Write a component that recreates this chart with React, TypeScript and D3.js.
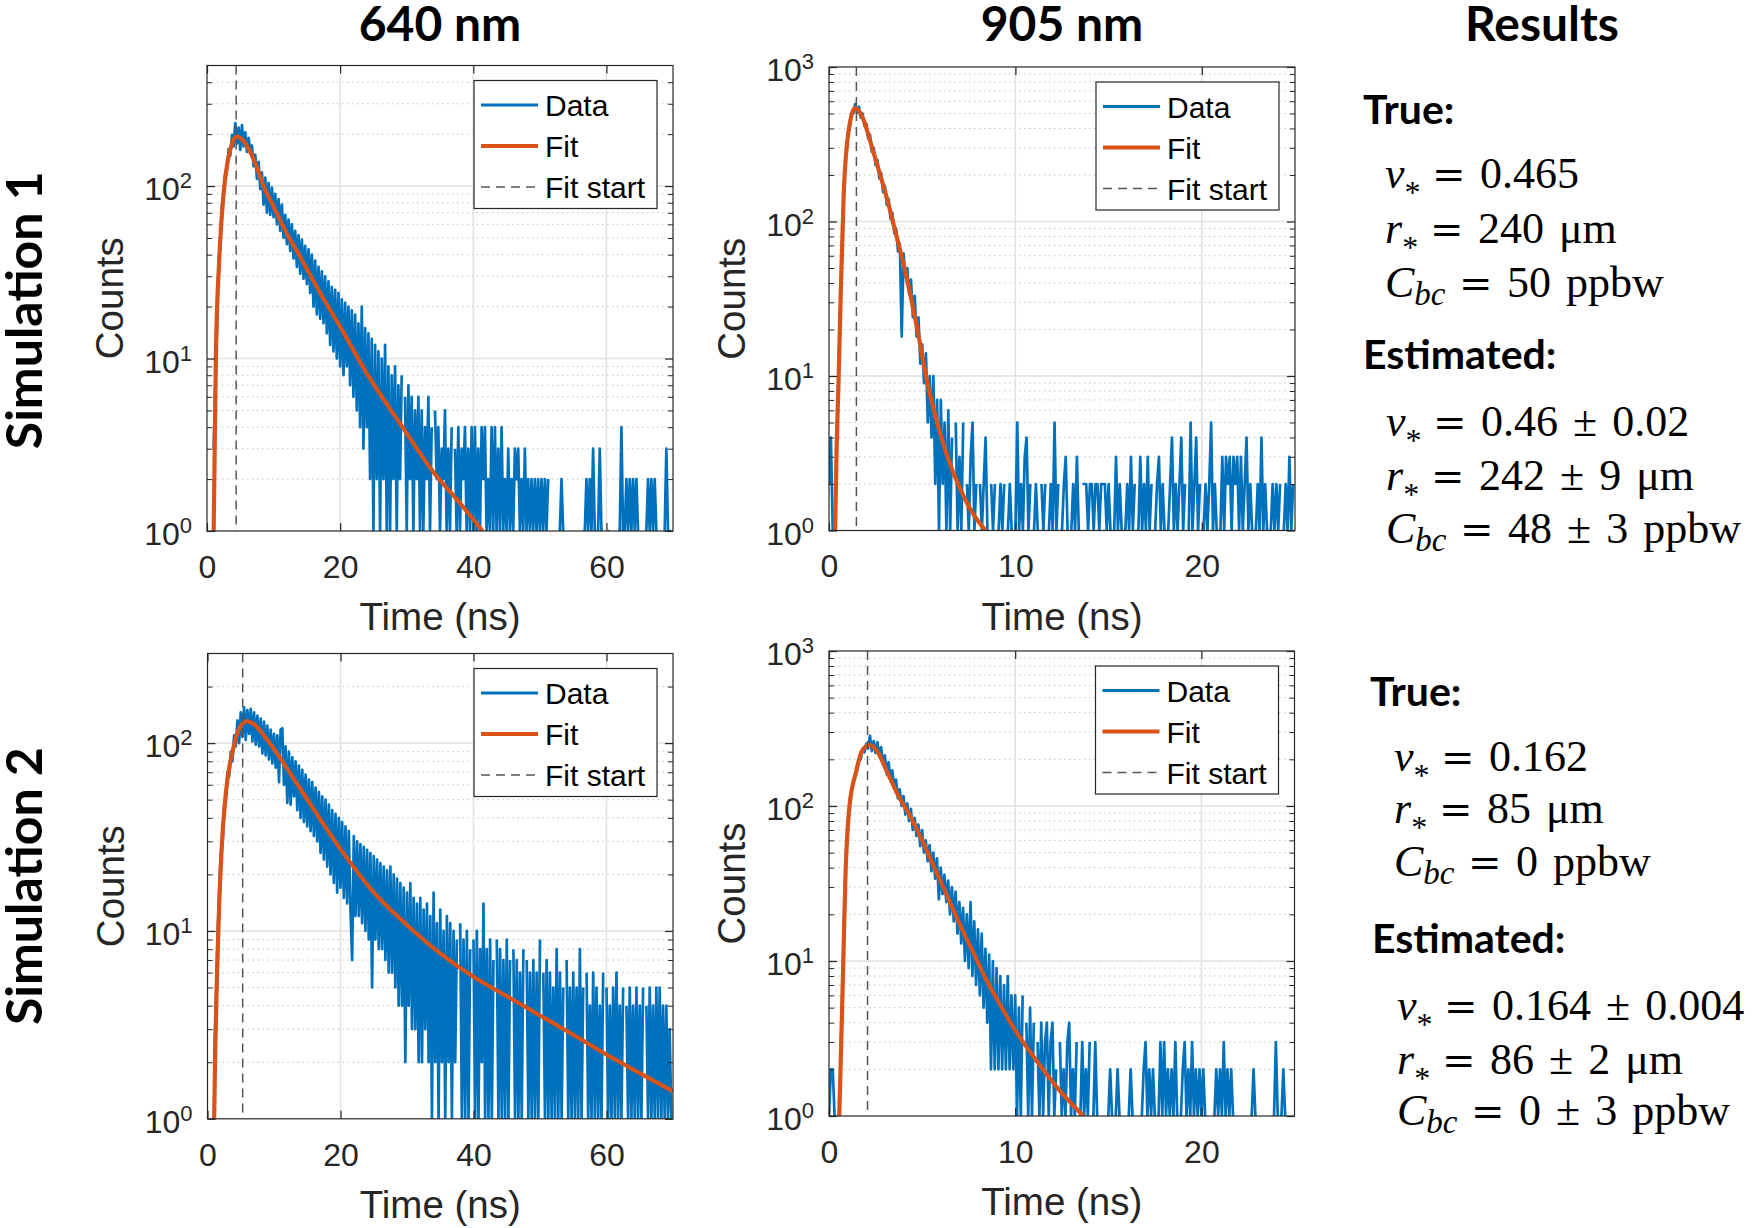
import React, { useEffect, useRef } from "react";
import * as d3 from "d3";

const WIDTH = 1753;
const HEIGHT = 1228;

const DATA_BLUE = "#0072BD";
const FIT_ORANGE = "#D95319";
const AXIS_COLOR = "#262626";
const AXIS_FONT = "'Liberation Sans', Arial, Helvetica, sans-serif";
const HEAD_FONT = "Lato, 'Open Sans', sans-serif";
const MATH_FONT = "'Liberation Serif', 'Times New Roman', serif";

// histogram bin widths (ns)
const binWidth640 = 0.25;
const binWidth905 = 0.1;

// photon counts per bin, simulation 1
const counts640Sim1 = [
  0, 0, 0, 0, 3, 7, 15, 38, 44, 78,
  86, 120, 126, 164, 150, 198, 170, 232, 176, 218,
  162, 226, 170, 205, 158, 190, 162, 172, 130, 152,
  110, 138, 96, 120, 78, 112, 70, 104, 68, 98,
  66, 90, 60, 84, 55, 78, 50, 68, 46, 64,
  42, 60, 38, 55, 34, 52, 31, 49, 29, 45,
  27, 43, 24, 40, 20, 37, 18, 34, 17, 32,
  16, 30, 14, 28, 12, 26, 11, 25, 10, 24,
  9, 22, 8, 21, 9, 20, 7, 19, 6, 18,
  5, 16, 4, 20, 3, 15, 4, 14, 2, 13,
  1, 12, 2, 11, 1, 10, 2, 12, 1, 9,
  1, 8, 2, 9, 1, 7, 2, 8, 0, 6,
  1, 7, 2, 6, 1, 5, 2, 6, 1, 5,
  1, 4, 2, 6, 1, 4, 0, 5, 2, 4,
  1, 3, 2, 5, 1, 3, 1, 4, 0, 3,
  1, 4, 1, 3, 2, 4, 1, 3, 1, 4,
  1, 4, 1, 3, 1, 4, 2, 4, 1, 2,
  1, 4, 1, 4, 1, 3, 1, 4, 1, 2,
  1, 3, 1, 2, 1, 3, 2, 3, 1, 2,
  1, 3, 1, 2, 1, 2, 1, 2, 1, 2,
  1, 2, 1, 2, 1, 2, 0, 2, 0, 1,
  0, 0, 1, 2, 1, 0, 0, 1, 0, 0,
  0, 0, 1, 0, 0, 0, 1, 1, 2, 1,
  2, 1, 3, 1, 0, 1, 3, 1, 0, 1,
  0, 1, 1, 0, 0, 1, 0, 1, 1, 4,
  1, 1, 2, 1, 2, 1, 2, 1, 2, 1,
  0, 0, 1, 0, 1, 2, 1, 2, 1, 2,
  1, 0, 0, 1, 0, 1, 3, 1, 1, 1,
];

const counts905Sim1 = [
  2, 4, 1, 0, 3, 9, 26, 70, 160, 262,
  360, 400, 505, 500, 575, 505, 555, 470, 500, 415,
  430, 345, 365, 282, 300, 232, 250, 190, 206, 155,
  170, 128, 140, 104, 114, 84, 90, 64, 72, 18,
  62, 44, 50, 34, 42, 24, 33, 18, 24, 12,
  16, 9, 14, 5, 10, 4, 10, 2, 7, 1,
  7, 2, 5, 1, 6, 1, 4, 0, 5, 1,
  3, 1, 5, 0, 2, 1, 3, 5, 1, 2,
  0, 2, 1, 2, 4, 1, 0, 2, 1, 2,
  0, 1, 2, 1, 2, 0, 1, 2, 1, 0,
  1, 5, 1, 2, 1, 3, 4, 1, 2, 0,
  1, 2, 1, 0, 2, 1, 2, 0, 1, 2,
  1, 5, 1, 2, 0, 1, 2, 3, 1, 0,
  1, 2, 1, 3, 1, 0, 2, 2, 2, 1,
  2, 2, 1, 2, 2, 1, 2, 2, 2, 1,
  2, 1, 0, 1, 3, 1, 2, 1, 0, 1,
  2, 1, 3, 1, 2, 0, 1, 3, 1, 2,
  1, 3, 1, 2, 0, 1, 2, 3, 1, 2,
  1, 0, 1, 2, 4, 1, 2, 1, 2, 4,
  1, 2, 0, 1, 5, 1, 2, 4, 1, 2,
  0, 1, 2, 1, 2, 5, 1, 2, 1, 0,
  1, 3, 1, 3, 2, 3, 1, 3, 2, 3,
  1, 3, 1, 2, 4, 1, 2, 1, 0, 1,
  2, 1, 4, 1, 2, 1, 0, 1, 2, 1,
  2, 1, 2, 0, 1, 2, 1, 3, 1, 2,
];

// photon counts per bin, simulation 2
const counts640Sim2 = [
  0, 0, 0, 0, 2, 4, 9, 16, 26, 28,
  46, 50, 70, 66, 90, 80, 110, 96, 132, 100,
  146, 108, 155, 104, 150, 112, 152, 102, 146, 98,
  140, 96, 135, 88, 130, 86, 124, 82, 118, 78,
  112, 74, 110, 62, 118, 120, 60, 96, 48, 90,
  47, 84, 52, 80, 44, 76, 40, 72, 38, 68,
  36, 64, 34, 62, 32, 58, 30, 55, 26, 52,
  24, 50, 22, 47, 20, 44, 18, 42, 16, 40,
  17, 38, 15, 36, 14, 34, 13, 7, 32, 12,
  30, 12, 29, 11, 28, 10, 27, 9, 26, 5,
  25, 9, 24, 8, 23, 8, 22, 7, 21, 6,
  22, 6, 20, 5, 19, 4, 18, 4, 17, 2,
  16, 4, 18, 3, 15, 3, 14, 2, 15, 2,
  13, 3, 14, 2, 12, 1, 16, 2, 11, 1,
  13, 2, 10, 1, 12, 2, 11, 1, 10, 2,
  9, 0, 11, 1, 9, 1, 10, 1, 8, 0,
  9, 1, 10, 1, 8, 2, 14, 1, 8, 1,
  9, 1, 7, 0, 9, 1, 8, 1, 7, 1,
  9, 1, 7, 0, 8, 1, 7, 1, 6, 1,
  8, 0, 7, 1, 6, 1, 7, 1, 6, 1,
  9, 0, 6, 1, 7, 1, 6, 1, 5, 1,
  8, 1, 6, 1, 5, 0, 7, 1, 5, 1,
  6, 1, 5, 1, 8, 1, 5, 0, 6, 1,
  4, 1, 6, 1, 5, 1, 4, 1, 6, 0,
  5, 1, 4, 1, 5, 1, 6, 1, 4, 1,
  5, 0, 4, 1, 5, 1, 4, 1, 5, 1,
  4, 1, 5, 0, 4, 1, 5, 1, 4, 1,
  5, 1, 5, 1, 4, 1, 4, 1, 3, 1,
];

const counts905Sim2 = [
  1, 2, 2, 1, 0, 0, 2, 5, 18, 40,
  68, 98, 120, 140, 158, 168, 196, 200, 234, 222,
  252, 236, 284, 226, 262, 220, 258, 208, 240, 186,
  212, 160, 192, 150, 170, 132, 148, 112, 128, 100,
  116, 88, 104, 80, 96, 70, 84, 64, 76, 55,
  70, 50, 60, 44, 56, 38, 50, 34, 46, 25,
  40, 27, 36, 24, 33, 20, 30, 18, 28, 15,
  24, 13, 22, 10, 20, 9, 24, 8, 18, 7,
  16, 6, 15, 5, 12, 4, 11, 2, 10, 2,
  9, 2, 8, 2, 7, 2, 8, 2, 6, 2,
  6, 1, 5, 1, 6, 0, 4, 1, 5, 1,
  4, 0, 3, 1, 4, 1, 3, 4, 1, 3,
  4, 1, 2, 0, 3, 1, 2, 1, 3, 4,
  1, 2, 1, 3, 0, 1, 3, 1, 2, 1,
  3, 0, 1, 3, 1, 0, 0, 1, 0, 0,
  1, 2, 1, 0, 1, 2, 1, 0, 0, 1,
  0, 1, 2, 1, 0, 0, 1, 0, 1, 2,
  3, 1, 2, 1, 2, 1, 0, 1, 3, 1,
  3, 1, 2, 1, 2, 1, 3, 1, 0, 1,
  2, 3, 1, 2, 1, 3, 1, 2, 1, 2,
  1, 2, 1, 0, 0, 1, 0, 1, 2, 1,
  2, 1, 3, 1, 2, 1, 2, 1, 0, 0,
  1, 0, 1, 0, 0, 1, 0, 1, 2, 1,
  0, 0, 1, 0, 0, 1, 0, 1, 0, 1,
  3, 1, 0, 1, 2, 1, 0, 1, 0, 1,
];

// fitted model sampled at a few times (ns -> counts)
const fitTime640Sim1 = [1.0, 1.33, 1.83, 2.48, 3.13, 3.8, 4.49, 5.5, 6.49, 7.5, 8.5, 10, 12, 14, 17, 20, 24, 29, 34, 38, 41.4];
const fitCounts640Sim1 = [1, 10, 37, 90, 141, 178, 194, 182, 158, 128, 100, 76, 53, 38.8, 24, 15.3, 8.2, 4.2, 2.2, 1.45, 1.0];

const fitTime905Sim1 = [0.33, 0.4, 0.52, 0.63, 0.79, 0.97, 1.15, 1.38, 1.6, 1.9, 2.19, 2.6, 3.08, 3.5, 3.98, 4.4, 4.88, 5.2, 5.8, 6.4, 7.0, 7.7, 8.4];
const fitCounts905Sim1 = [1, 3, 10, 34, 152, 321, 454, 541, 520, 440, 337, 230, 145, 92, 54, 32, 16.3, 10, 5.0, 2.9, 1.9, 1.3, 1.0];

const fitTime640Sim2 = [1.0, 1.13, 1.63, 2.13, 2.78, 3.88, 4.8, 5.89, 7.0, 8.9, 13.9, 19.9, 24.9, 29.95, 35, 40, 45, 50, 55, 60, 65, 70];
const fitCounts640Sim2 = [1, 1.94, 10, 27.6, 55, 94, 120, 131, 126, 105, 57.5, 27.6, 16.2, 10.8, 7.6, 5.7, 4.5, 3.55, 2.8, 2.2, 1.75, 1.4];

const fitTime905Sim2 = [0.55, 0.63, 0.77, 0.88, 1.1, 1.46, 1.76, 2.17, 2.6, 3.11, 3.7, 4.36, 5.0, 5.62, 6.3, 7.05, 7.8, 8.49, 9.2, 9.92, 11.0, 12.3, 13.66];
const fitCounts905Sim2 = [1, 2.25, 10, 34, 100, 167, 225, 248, 225, 167, 118, 86, 60, 41, 27, 17, 11, 7.4, 5.2, 3.7, 2.4, 1.5, 1.0];

// start of the fitting window (ns)
const fitStart640Sim1 = 4.38;
const fitStart905Sim1 = 1.47;
const fitStart640Sim2 = 5.29;
const fitStart905Sim2 = 2.07;

const xTicks640 = [0, 20, 40, 60];
const xTicks905 = [0, 10, 20];
const xMax640 = 70;
const xMax905 = 25;

const legendLabels = ["Data", "Fit", "Fit start"];
const columnTitles = ["640 nm", "905 nm", "Results"];
const rowTitles = ["Simulation 1", "Simulation 2"];

const trueSim1 = ["0.465", "240 μm", "50 ppbw"];
const estSim1 = ["0.46 ± 0.02", "242 ± 9 μm", "48 ± 3 ppbw"];
const trueSim2 = ["0.162", "85 μm", "0 ppbw"];
const estSim2 = ["0.164 ± 0.004", "86 ± 2 μm", "0 ± 3 ppbw"];

const panels = [
  { id: "a", counts: counts640Sim1, bin: binWidth640, fitTime: fitTime640Sim1, fitCounts: fitCounts640Sim1,
    fitStart: fitStart640Sim1, xMax: xMax640, xTicks: xTicks640, yMax: 500,
    left: 207, right: 673, top: 65.5, bottom: 531 },
  { id: "b", counts: counts905Sim1, bin: binWidth905, fitTime: fitTime905Sim1, fitCounts: fitCounts905Sim1,
    fitStart: fitStart905Sim1, xMax: xMax905, xTicks: xTicks905, yMax: 1000,
    left: 829, right: 1295, top: 67, bottom: 530.5 },
  { id: "c", counts: counts640Sim2, bin: binWidth640, fitTime: fitTime640Sim2, fitCounts: fitCounts640Sim2,
    fitStart: fitStart640Sim2, xMax: xMax640, xTicks: xTicks640, yMax: 300,
    left: 207.5, right: 673, top: 653.5, bottom: 1118.8 },
  { id: "d", counts: counts905Sim2, bin: binWidth905, fitTime: fitTime905Sim2, fitCounts: fitCounts905Sim2,
    fitStart: fitStart905Sim2, xMax: xMax905, xTicks: xTicks905, yMax: 1000,
    left: 829, right: 1294.5, top: 651, bottom: 1116 },
];

type Panel = (typeof panels)[number];

function drawPanel(svg: d3.Selection<SVGSVGElement, unknown, null, undefined>, p: Panel) {
  const x = d3.scaleLinear().domain([0, p.xMax]).range([p.left, p.right]);
  const y = d3.scaleLog().domain([1, p.yMax]).range([p.bottom, p.top]);
  const g = svg.append("g");

  const clipId = "clip-" + p.id;
  g.append("clipPath").attr("id", clipId).append("rect")
    .attr("x", p.left).attr("y", p.top)
    .attr("width", p.right - p.left).attr("height", p.bottom - p.top);

  // decades and the 2..9 minor values in between
  const decades = d3.range(0, Math.ceil(Math.log10(p.yMax)) + 1)
    .map((k) => Math.pow(10, k)).filter((v) => v <= p.yMax);
  const minors: number[] = [];
  decades.forEach((d) => {
    for (let k = 2; k <= 9; k++) if (k * d < p.yMax) minors.push(k * d);
  });

  // grid
  g.append("g").selectAll("line").data(minors).join("line")
    .attr("x1", p.left).attr("x2", p.right)
    .attr("y1", (d) => y(d)).attr("y2", (d) => y(d))
    .attr("stroke", "#c4c4c4").attr("stroke-width", 1).attr("stroke-dasharray", "1.5 3.5");
  g.append("g").selectAll("line").data(decades.filter((d) => d > 1 && d < p.yMax)).join("line")
    .attr("x1", p.left).attr("x2", p.right)
    .attr("y1", (d) => y(d)).attr("y2", (d) => y(d))
    .attr("stroke", "#e1e1e1").attr("stroke-width", 1.5);
  g.append("g").selectAll("line").data(p.xTicks.filter((t) => t > 0)).join("line")
    .attr("x1", (d) => x(d)).attr("x2", (d) => x(d))
    .attr("y1", p.top).attr("y2", p.bottom)
    .attr("stroke", "#e1e1e1").attr("stroke-width", 1.5);

  // measured histogram (empty bins leave gaps on the log axis)
  const dataLine = d3.line<number>()
    .defined((d) => d > 0)
    .x((d, i) => x(i * p.bin))
    .y((d) => y(d));
  g.append("path")
    .attr("clip-path", `url(#${clipId})`)
    .attr("d", dataLine(p.counts))
    .attr("fill", "none")
    .attr("stroke", DATA_BLUE)
    .attr("stroke-width", 2.7)
    .attr("stroke-linejoin", "round");

  // model fit
  const fitLine = d3.line<number>()
    .curve(d3.curveMonotoneX)
    .x((d, i) => x(p.fitTime[i]))
    .y((d) => y(d));
  g.append("path")
    .attr("clip-path", `url(#${clipId})`)
    .attr("d", fitLine(p.fitCounts))
    .attr("fill", "none")
    .attr("stroke", FIT_ORANGE)
    .attr("stroke-width", 4.2);

  // fit window start
  g.append("line")
    .attr("x1", x(p.fitStart)).attr("x2", x(p.fitStart))
    .attr("y1", p.top).attr("y2", p.bottom)
    .attr("stroke", "#555").attr("stroke-width", 1.5)
    .attr("stroke-dasharray", "9 6");

  // ticks on all four sides, pointing inwards
  const xb = g.append("g").attr("transform", `translate(0,${p.bottom})`)
    .call(d3.axisBottom(x).tickValues(p.xTicks).tickSize(-8).tickSizeOuter(0).tickPadding(24).tickFormat(d3.format("d")));
  xb.attr("font-size", 32).attr("font-family", AXIS_FONT);
  xb.select(".domain").remove();
  xb.selectAll("line").attr("stroke", AXIS_COLOR).attr("stroke-width", 1.2);
  xb.selectAll("text").attr("fill", AXIS_COLOR);

  const xt = g.append("g").attr("transform", `translate(0,${p.top})`)
    .call(d3.axisTop(x).tickValues(p.xTicks).tickSize(-8).tickSizeOuter(0));
  xt.select(".domain").remove();
  xt.selectAll("text").remove();
  xt.selectAll("line").attr("stroke", AXIS_COLOR).attr("stroke-width", 1.2);

  [
    { axis: d3.axisLeft(y), at: p.left },
    { axis: d3.axisRight(y), at: p.right },
  ].forEach(({ axis, at }) => {
    const major = g.append("g").attr("transform", `translate(${at},0)`)
      .call(axis.tickValues(decades).tickSize(-8).tickSizeOuter(0));
    major.select(".domain").remove();
    major.selectAll("text").remove();
    major.selectAll("line").attr("stroke", AXIS_COLOR).attr("stroke-width", 1.2);
    const minor = g.append("g").attr("transform", `translate(${at},0)`)
      .call(axis.tickValues(minors).tickSize(-5).tickSizeOuter(0));
    minor.select(".domain").remove();
    minor.selectAll("text").remove();
    minor.selectAll("line").attr("stroke", AXIS_COLOR).attr("stroke-width", 1);
  });

  // 10^k labels
  g.append("g").selectAll("text").data(decades).join("text")
    .attr("x", p.left - 15)
    .attr("y", (d) => y(d) + 14)
    .attr("text-anchor", "end")
    .attr("font-family", AXIS_FONT)
    .attr("font-size", 32)
    .attr("fill", AXIS_COLOR)
    .each(function (d) {
      const t = d3.select(this);
      t.append("tspan").text("10");
      t.append("tspan").attr("dy", -12).attr("font-size", 22).text(String(Math.round(Math.log10(d))));
    });

  g.append("rect")
    .attr("x", p.left).attr("y", p.top)
    .attr("width", p.right - p.left).attr("height", p.bottom - p.top)
    .attr("fill", "none").attr("stroke", AXIS_COLOR).attr("stroke-width", 1.2);

  // axis titles
  g.append("text")
    .attr("x", (p.left + p.right) / 2).attr("y", p.bottom + 99)
    .attr("text-anchor", "middle").attr("font-family", AXIS_FONT).attr("font-size", 38.5)
    .attr("fill", AXIS_COLOR).text("Time (ns)");
  g.append("text")
    .attr("transform", `translate(${p.left - 84},${(p.top + p.bottom) / 2}) rotate(-90)`)
    .attr("text-anchor", "middle").attr("font-family", AXIS_FONT).attr("font-size", 38.5)
    .attr("fill", AXIS_COLOR).text("Counts");

  // legend
  const lg = g.append("g").attr("transform", `translate(${p.right - 199},${p.top + 15})`);
  lg.append("rect").attr("width", 183).attr("height", 128)
    .attr("fill", "#fff").attr("stroke", AXIS_COLOR).attr("stroke-width", 1.2);
  const entries = [
    { color: DATA_BLUE, width: 3, dash: null as string | null },
    { color: FIT_ORANGE, width: 4, dash: null as string | null },
    { color: "#555", width: 1.5, dash: "9 6" },
  ];
  entries.forEach((e, i) => {
    const cy = 24.5 + 41 * i;
    lg.append("line").attr("x1", 7).attr("x2", 64).attr("y1", cy).attr("y2", cy)
      .attr("stroke", e.color).attr("stroke-width", e.width)
      .attr("stroke-dasharray", e.dash);
    lg.append("text").attr("x", 71).attr("y", cy + 11)
      .attr("font-family", AXIS_FONT).attr("font-size", 30).attr("fill", "#000")
      .text(legendLabels[i]);
  });
}

const symbols = [
  { base: "v", sub: "*", subSize: 32, subDy: 15, eq: 47 },
  { base: "r", sub: "*", subSize: 32, subDy: 15, eq: 45 },
  { base: "C", sub: "bc", subSize: 33, subDy: 8, eq: 74 },
];

const resultBlocks = [
  { heading: "True:", hx: 1363, hy: 124, left: 1385, lines: trueSim1, baselines: [188, 243, 297] },
  { heading: "Estimated:", hx: 1363, hy: 369, left: 1386, lines: estSim1, baselines: [436, 490, 543] },
  { heading: "True:", hx: 1370, hy: 706, left: 1394, lines: trueSim2, baselines: [771, 823, 876] },
  { heading: "Estimated:", hx: 1372, hy: 953, left: 1397, lines: estSim2, baselines: [1020, 1074, 1125] },
];

function drawResults(svg: d3.Selection<SVGSVGElement, unknown, null, undefined>) {
  const g = svg.append("g");
  resultBlocks.forEach((b) => {
    g.append("text").attr("x", b.hx).attr("y", b.hy)
      .attr("font-family", HEAD_FONT).attr("font-weight", 700).attr("font-size", 41)
      .attr("fill", "#000").text(b.heading);
    b.lines.forEach((value, i) => {
      const s = symbols[i];
      const yb = b.baselines[i];
      const sym = g.append("text").attr("x", b.left).attr("y", yb)
        .attr("font-family", MATH_FONT).attr("font-size", 44).attr("fill", "#000");
      sym.append("tspan").attr("font-style", "italic").text(s.base);
      sym.append("tspan").attr("font-style", s.sub === "*" ? "normal" : "italic")
        .attr("font-size", s.subSize).attr("dy", s.subDy).text(s.sub);
      g.append("text").attr("x", b.left + s.eq).attr("y", yb)
        .attr("font-family", "'DejaVu Serif', serif").attr("font-size", 40).attr("fill", "#000")
        .text("=");
      g.append("text").attr("x", b.left + s.eq + 48).attr("y", yb)
        .attr("font-family", MATH_FONT).attr("font-size", 44).attr("fill", "#000")
        .attr("word-spacing", 4)
        .text(value);
    });
  });
}

function drawHeadings(svg: d3.Selection<SVGSVGElement, unknown, null, undefined>) {
  const titleX = [
    (panels[0].left + panels[0].right) / 2,
    (panels[1].left + panels[1].right) / 2,
    1542,
  ];
  svg.append("g").selectAll("text").data(columnTitles).join("text")
    .attr("x", (d, i) => titleX[i]).attr("y", 41)
    .attr("text-anchor", "middle").attr("font-family", HEAD_FONT)
    .attr("font-weight", 700).attr("font-size", 48).attr("fill", "#000")
    .text((d) => d);
  const rowY = [
    (panels[0].top + panels[0].bottom) / 2 + 12,
    (panels[2].top + panels[2].bottom) / 2 + 0,
  ];
  svg.append("g").selectAll("text").data(rowTitles).join("text")
    .attr("transform", (d, i) => `translate(42,${rowY[i]}) rotate(-90)`)
    .attr("text-anchor", "middle").attr("font-family", HEAD_FONT)
    .attr("font-weight", 700).attr("font-size", 50).attr("fill", "#000")
    .text((d) => d);
}

export default function App() {
  const svgRef = useRef<SVGSVGElement>(null);

  useEffect(() => {
    const svg = d3.select(svgRef.current as SVGSVGElement);
    svg.selectAll("*").remove();
    svg.append("rect").attr("width", WIDTH).attr("height", HEIGHT).attr("fill", "#fff");
    panels.forEach((p) => drawPanel(svg, p));
    drawHeadings(svg);
    drawResults(svg);
  }, []);

  return (
    <svg
      ref={svgRef}
      width={WIDTH}
      height={HEIGHT}
      style={{ position: "absolute", left: 0, top: 0, display: "block" }}
    />
  );
}
